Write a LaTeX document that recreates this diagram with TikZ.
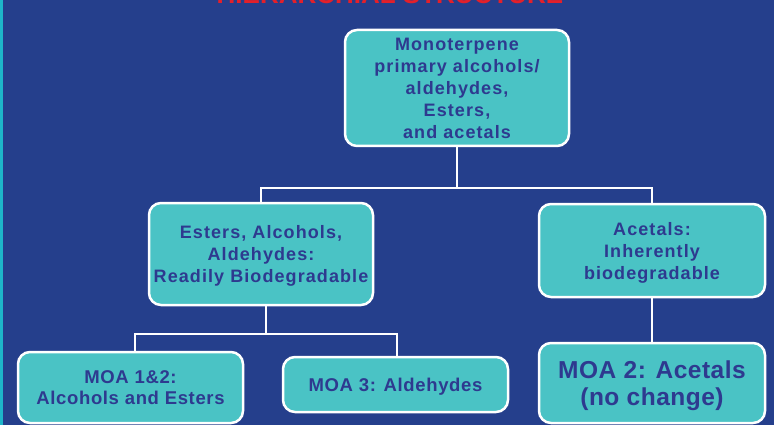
\documentclass[tikz,border=0pt]{standalone}
\usepackage{fontspec}
\setmainfont{Liberation Sans}
\newfontfamily\fa[LetterSpace=6]{Liberation Sans}
\newfontfamily\fb[LetterSpace=3.5]{Liberation Sans}
\newfontfamily\fc[LetterSpace=2]{Liberation Sans}
\definecolor{bg}{HTML}{253F8C}
\definecolor{boxfill}{HTML}{4AC3C5}
\definecolor{txt}{HTML}{2E3A8F}
\definecolor{strip}{HTML}{1EB6CA}
\definecolor{ttl}{HTML}{E3202A}
\tikzset{
  box/.style={rectangle, rounded corners=12pt, draw=white, line width=2.5pt,
    fill=boxfill, text=txt, align=center, inner sep=0pt},
  sa/.style={font=\fa\bfseries\fontsize{18}{22}\selectfont},
  sb/.style={font=\fb\bfseries\fontsize{18.5}{21}\selectfont},
  sc/.style={font=\fc\bfseries\fontsize{24.5}{26.5}\selectfont},
  conn/.style={draw=white, line width=2.5pt}
}
\begin{document}
\begin{tikzpicture}[x=1pt,y=-1pt]
\fill[bg] (0,0) rectangle (774,425);
\useasboundingbox (0,0) rectangle (774,425);
\clip (0,0) rectangle (774,425);
\fill[strip] (0,0) rectangle (3,425);
\node[text=ttl, font=\bfseries\fontsize{26}{28}\selectfont, anchor=base, inner sep=0pt] (title) at (390,4) {HIERARCHIAL STRUCTURE};

\node[box, sa, text depth=-6pt, minimum width=224pt, minimum height=116pt] (top) at (457,88)
  {Monoterpene\\primary alcohols/\\aldehydes,\\Esters,\\and acetals};
\node[box, sa, text depth=-4.2pt, minimum width=224pt, minimum height=102pt] (midL) at (261,254)
  {Esters, Alcohols,\\Aldehydes:\\Readily Biodegradable};
\node[box, sa, text depth=-5.2pt, minimum width=226pt, minimum height=93pt] (midR) at (652,250.5)
  {Acetals:\\Inherently\\biodegradable};
\node[box, sb, text depth=-4pt, minimum width=225pt, minimum height=71pt] (b1) at (130.5,387.5)
  {MOA 1\&2:\\Alcohols and Esters};
\node[box, sb, text depth=-2pt, minimum width=225pt, minimum height=55pt] (b2) at (395.5,384.5)
  {MOA 3: Aldehydes};
\node[box, sc, text depth=-1pt, minimum width=226pt, minimum height=80pt] (b3) at (652,383)
  {MOA 2: Acetals\\(no change)};

\coordinate (j1) at (457,188);
\coordinate (j2) at (266,334);
\draw[conn] (top.south) -- (j1);
\draw[conn] (midL.north) |- (j1) -| (midR.north);
\draw[conn] (midL.south -| j2) -- (j2);
\draw[conn] ([xshift=4.5pt]b1.north) |- (j2) -| ([xshift=1.5pt]b2.north);
\draw[conn] (midR.south) -- (b3.north);
\end{tikzpicture}
\end{document}
